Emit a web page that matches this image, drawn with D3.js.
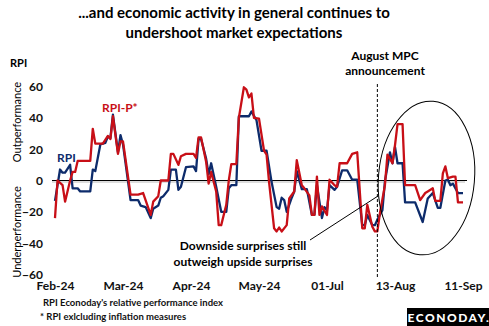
<!DOCTYPE html>
<html>
<head>
<meta charset="utf-8">
<script src="https://cdn.jsdelivr.net/npm/d3@7"></script>
<style>
  body { margin: 0; background: #fff; }
  text { font-family: Lato, "Open Sans", sans-serif; }
</style>
</head>
<body>
<div id="chart"></div>
<script>
// trading-day index along the x axis and the index value at that day
const rpi = [
  [0, -13], [2, 7], [3, 5], [4, 5], [6, 10], [7, -5], [9, -5], [10, -7], [14, -7], [15, 7], [16, 6],
  [18, 23], [20, 24], [21, 28], [22, 27], [23, 42], [25, 18], [26, 29], [27, 23], [30, -12.5], [33, -12.5],
  [34, -16], [36, -17], [38, -24], [39, -18], [41, -16], [42, -11], [43, -10], [45, -6], [46, 7], [48, 7],
  [49, -6], [50, -4], [52, 8.5], [55, 9], [56, 6], [57, 26.5], [58, 26.5], [60, 14], [61, 4], [62, 11],
  [64, -4], [66, -20], [68, -20], [69, -5], [70, -3], [72, -3], [73, 41], [77, 41], [78, 44], [80, 38.5],
  [82, 19], [84, 19], [86, -1], [88, -17], [89, -18], [90, -11], [91, -12.5], [92, -20], [94, -11], [95, -7],
  [96, 6], [98, -5.5], [100, -5.5], [102, -22], [103, -22], [104, -3], [106, -24], [107, -17], [108, -19],
  [109, -3], [111, -6], [112, -4], [114, 6.5], [116, 6.5], [118, 0.5], [120, 0.5], [122, -28.5], [123, -28.5],
  [124, -22], [126, -28.5], [127, -28.5], [128, -25], [130, -19], [131, -0.5], [133, 18], [134, 11], [135, 21.5],
  [136, 11], [138, 11], [139, -14], [143, -14], [146, -26.5], [148, -11.5], [150, -8], [152, -17.5], [153, -17.5],
  [155, 0], [156, 0.5], [157, -3], [158, -2], [160, -8], [162, -8]
];

const rpiP = [
  [0, -24], [1, 0], [3, -3], [4, -13.5], [6, 0], [7, 5.5], [8, 5.5], [9, 12.5], [14, 12.5], [15, 33], [16, 23.5],
  [19, 23.5], [21, 28.5], [22, 26.5], [23, 41], [25, 17], [26, 25], [27, 25], [30, -9], [33, -9], [35, -8],
  [38, -22], [39, -13.5], [41, -10], [42, 0], [45, 0], [46, 17], [47, 17], [49, 10], [50, 15.5], [52, 17],
  [55, 17], [56, 14.5], [57, 27.5], [58, 27.5], [60, 12], [61, -2], [62, 5.5], [64, -7], [65, -28.5], [66, -28.5],
  [68, -15.5], [69, 0], [70, 10.5], [72, 10.5], [73, 40], [75, 59.5], [76, 58], [77, 53], [78, 55.5], [79, 40],
  [81, 39.5], [83, 19], [84, 16.5], [85, -1], [87, -30.5], [88, -32.5], [89, -30], [90, -32.5], [92, -28.5],
  [93, -11.5], [95, -7], [96, 13], [98, -3], [99, -5], [101, -9.5], [102, -22], [103, -22], [104, 2.5],
  [105, -22], [106, -16.5], [108, -22], [109, 0.5], [111, -3], [112, -4], [113, 11], [116, 11], [118, 17],
  [120, 18], [122, -30.5], [123, -30.5], [124, -15.5], [126, -29.5], [127, -32.5], [128, -32.5], [129, -21],
  [131, -3], [132, 16.5], [134, 11], [135, 22.5], [136, 36], [138, 36], [139, -3], [143, -3], [145, -12.5],
  [147, -8], [148, -7], [150, -5], [151, -13], [153, -13], [154, 4.5], [155, 9], [156, 1.5], [158, 2.5],
  [159, 2.5], [160, -14], [162, -14]
];

const lastDay = 162;
const xTickDays = [0, 27, 54, 81, 108, 135, 162];
const xTickLabels = ["Feb-24", "Mar-24", "Apr-24", "May-24", "01-Jul", "13-Aug", "11-Sep"];
const yTicks = [-60, -40, -20, 0, 20, 40, 60];
const mpcDay = 128;

const titleLines = ["...and economic activity in general continues to", "undershoot market expectations"];
const notes = ["RPI Econoday's relative performance index", "* RPI exlcluding inflation measures"];

const W = 489, H = 326;
const navy = "#0d2b6b", red = "#c80f17";

const svg = d3.select("#chart").append("svg")
  .attr("width", W)
  .attr("height", H);

svg.append("rect").attr("width", W).attr("height", H).attr("fill", "#fff");

const x = d3.scaleLinear().domain([0, lastDay]).range([55, 463]);
const y = d3.scaleLinear().domain([-60, 60]).range([274.5, 86.5]);

// title
svg.append("g").selectAll("text")
  .data(titleLines)
  .enter().append("text")
  .attr("x", 234)
  .attr("y", (d, i) => 18 + i * 19.5)
  .attr("text-anchor", "middle")
  .style("font-size", "15px")
  .style("font-weight", "bold")
  .text(d => d);

// y axis: labels only
const yAxis = svg.append("g")
  .attr("transform", "translate(44,0)")
  .call(d3.axisLeft(y).tickValues(yTicks).tickSize(0).tickPadding(1));
yAxis.select(".domain").remove();
yAxis.selectAll("text")
  .style("font-size", "12px")
  .style("font-weight", "bold")
  .attr("fill", "#111");

// x axis: labels only
const xAxis = svg.append("g")
  .attr("transform", "translate(0,279)")
  .call(d3.axisBottom(x).tickValues(xTickDays).tickFormat((d, i) => xTickLabels[i]).tickSize(0).tickPadding(2));
xAxis.select(".domain").remove();
xAxis.selectAll("text")
  .style("font-size", "12px")
  .style("font-weight", "bold")
  .attr("fill", "#111");

svg.append("text")
  .attr("x", 10).attr("y", 67)
  .style("font-size", "11px").style("font-weight", "bold")
  .text("RPI");

svg.append("text")
  .attr("transform", "translate(21,122) rotate(-90)")
  .attr("text-anchor", "middle")
  .style("font-size", "11px")
  .text("Outperformance");
svg.append("text")
  .attr("transform", "translate(21,232) rotate(-90)")
  .attr("text-anchor", "middle")
  .style("font-size", "11px")
  .text("Underperformance");

// zero line
svg.append("line")
  .attr("x1", 52).attr("x2", 465)
  .attr("y1", y(0) + 1.5).attr("y2", y(0) + 1.5)
  .attr("stroke", "#bbb").attr("stroke-width", 1);
svg.append("line")
  .attr("x1", 52).attr("x2", 467)
  .attr("y1", y(0)).attr("y2", y(0))
  .attr("stroke", "#000").attr("stroke-width", 1);

const line = d3.line()
  .x(d => x(d[0]))
  .y(d => y(d[1]));

svg.append("path")
  .datum(rpi)
  .attr("fill", "none")
  .attr("stroke", navy)
  .attr("stroke-width", 2.3)
  .attr("stroke-linejoin", "round")
  .attr("d", line);

svg.append("path")
  .datum(rpiP)
  .attr("fill", "none")
  .attr("stroke", red)
  .attr("stroke-width", 2.3)
  .attr("stroke-linejoin", "round")
  .attr("d", line);

// series labels
svg.append("text")
  .attr("x", 57).attr("y", 162)
  .attr("fill", navy)
  .style("font-size", "12px").style("font-weight", "bold")
  .text("RPI");
svg.append("text")
  .attr("x", 102).attr("y", 112)
  .attr("fill", red)
  .style("font-size", "12px").style("font-weight", "bold")
  .text("RPI-P*");

// MPC marker
const mx = x(mpcDay);
svg.append("line")
  .attr("x1", mx).attr("x2", mx)
  .attr("y1", 84).attr("y2", 278)
  .attr("stroke", "#000").attr("stroke-width", 1)
  .attr("stroke-dasharray", "3,2");
svg.append("g").selectAll("text")
  .data(["August MPC", "announcement"])
  .enter().append("text")
  .attr("x", 385)
  .attr("y", (d, i) => 60 + i * 15)
  .attr("text-anchor", "middle")
  .style("font-size", "12px")
  .style("font-weight", "bold")
  .text(d => d);

// ring round the latest readings
svg.append("ellipse")
  .attr("transform", "translate(426.5,178) rotate(5)")
  .attr("rx", 48).attr("ry", 77)
  .attr("fill", "none")
  .attr("stroke", "#000").attr("stroke-width", 1);

// callout
svg.append("line")
  .attr("x1", 310).attr("y1", 240)
  .attr("x2", 378).attr("y2", 196)
  .attr("stroke", "#000").attr("stroke-width", 1);
svg.append("g").selectAll("text")
  .data(["Downside surprises still", "outweigh upside surprises"])
  .enter().append("text")
  .attr("x", 243)
  .attr("y", (d, i) => 250 + i * 16)
  .attr("text-anchor", "middle")
  .style("font-size", "12px")
  .style("font-weight", "bold")
  .text(d => d);

// footnotes
svg.append("g").selectAll("text")
  .data(notes)
  .enter().append("text")
  .attr("x", (d, i) => i === 0 ? 43 : 40)
  .attr("y", (d, i) => 306 + i * 14)
  .style("font-size", "9.5px")
  .style("font-weight", "bold")
  .attr("fill", "#111")
  .text(d => d);

// logo
svg.append("rect")
  .attr("x", 407).attr("y", 308)
  .attr("width", 82).attr("height", 18)
  .attr("fill", "#000");
svg.append("text")
  .attr("x", 449).attr("y", 322)
  .attr("text-anchor", "middle")
  .attr("fill", "#fff")
  .style("font-size", "12px")
  .style("font-weight", "900")
  .style("letter-spacing", "1.5px")
  .text("ECONODAY.");
</script>
</body>
</html>
